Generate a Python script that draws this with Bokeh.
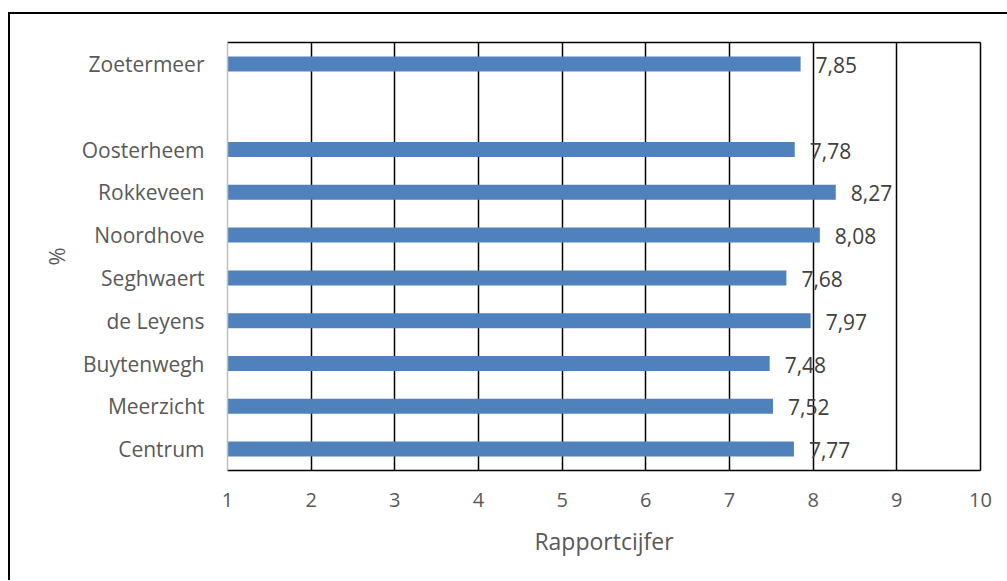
from bokeh.plotting import figure
from bokeh.models import (FactorRange, Range1d, FixedTicker, LinearAxis,
                          CategoricalAxis, ColumnDataSource)
from bokeh.core.properties import value
from bokeh.embed import file_html
from bokeh.resources import INLINE

# Data (top to bottom as shown); " " is the empty gap row
categories = ["Zoetermeer", " ", "Oosterheem", "Rokkeveen", "Noordhove", "Seghwaert",
              "de Leyens", "Buytenwegh", "Meerzicht", "Centrum"]
bar_categories = ["Zoetermeer", "Oosterheem", "Rokkeveen", "Noordhove", "Seghwaert",
                  "de Leyens", "Buytenwegh", "Meerzicht", "Centrum"]
scores = [7.85, 7.78, 8.27, 8.08, 7.68, 7.97, 7.48, 7.52, 7.77]
x_ticks = [1, 2, 3, 4, 5, 6, 7, 8, 9, 10]
x_min, x_max = 1, 10

FONT = "Open Sans"
labels = [f"{v:.2f}".replace(".", ",") for v in scores]
src = ColumnDataSource(dict(cat=bar_categories, score=scores,
                            left=[x_min] * len(scores), label=labels))

p = figure(y_range=FactorRange(factors=list(reversed(categories))),
           x_range=Range1d(x_min, x_max),
           frame_width=753, frame_height=428,
           min_border_left=217, min_border_top=28, min_border_right=27,
           min_border_bottom=110,
           output_backend="svg", toolbar_location=None,
           x_axis_label="Rapportcijfer", y_axis_label="%")
p.margin = (12, 0, 0, 8)
p.styles = {"border-left": "2px solid black", "border-top": "2px solid black"}
p.outline_line_color = None
p.background_fill_color = "white"
p.border_fill_color = "white"

p.hbar(y="cat", left="left", right="score", height=0.35, source=src,
       fill_color="#4F81BD", line_color=None)
p.text(x="score", y="cat", text="label", source=src, x_offset=15, y_offset=1,
       text_align="left", text_baseline="middle", text_font=value(FONT),
       text_font_size="21px", text_color="#404040")

# grid
p.ygrid.grid_line_color = None
p.xgrid.ticker = FixedTicker(ticks=x_ticks[1:-1])
p.xgrid.grid_line_color = "black"
p.xgrid.grid_line_width = 1.5

# x axis
xa = p.xaxis[0]
xa.ticker = FixedTicker(ticks=x_ticks)
xa.axis_line_color = "black"
xa.axis_line_width = 1.5
xa.major_tick_line_color = None
xa.minor_tick_line_color = None
xa.major_label_standoff = 16
xa.major_label_text_font = FONT
xa.major_label_text_font_size = "20px"
xa.major_label_text_color = "#595959"
xa.axis_label_text_font = FONT
xa.axis_label_text_font_size = "23px"
xa.axis_label_text_font_style = "normal"
xa.axis_label_text_color = "#595959"
xa.axis_label_standoff = 15

# y axis
ya = p.yaxis[0]
ya.axis_line_color = "#BFBFBF"
ya.axis_line_width = 1.5
ya.major_tick_line_color = None
ya.minor_tick_line_color = None
ya.major_label_standoff = 17
ya.major_label_text_font = FONT
ya.major_label_text_font_size = "21px"
ya.major_label_text_color = "#595959"
ya.axis_label_text_font = FONT
ya.axis_label_text_font_size = "22px"
ya.axis_label_text_font_style = "normal"
ya.axis_label_text_color = "#595959"
ya.axis_label_standoff = 8

# top and right frame lines
top = LinearAxis(axis_line_color="black", axis_line_width=1.5,
                 major_tick_line_color=None, minor_tick_line_color=None,
                 major_label_text_font_size="0px", ticker=FixedTicker(ticks=[]))
p.add_layout(top, "above")
right = CategoricalAxis(axis_line_color="black", axis_line_width=1.5,
                        major_tick_line_color=None, minor_tick_line_color=None,
                        major_label_text_font_size="0px",
                        major_label_text_color=None)
p.add_layout(right, "right")

open("out.html", "w").write(file_html(p, INLINE))
